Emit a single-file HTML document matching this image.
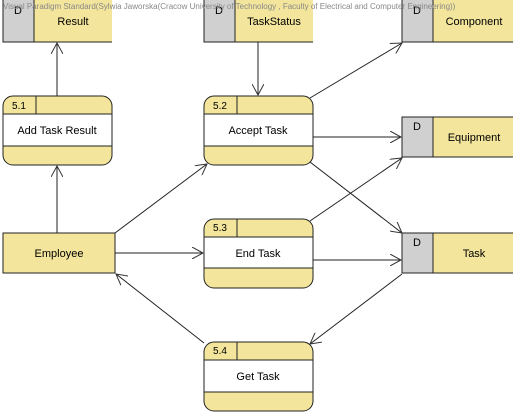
<!DOCTYPE html>
<html><head><style>
body{margin:0;background:#fff;width:516px;height:415px;overflow:hidden}
</style></head><body>
<svg width="516" height="415" xmlns="http://www.w3.org/2000/svg" font-family="Liberation Sans, sans-serif">
<defs>
<marker id="a" markerWidth="12" markerHeight="12" refX="11" refY="6" orient="auto" markerUnits="userSpaceOnUse">
<path d="M0,0 L11,6 L0,12" fill="none" stroke="#333" stroke-width="1"/></marker>
</defs>
<g font-size="11" text-anchor="middle">
<!-- stores -->
<g id="s">
</g>
<rect x="3" y="-2" width="31" height="44" fill="#d0d0d0"/><rect x="34" y="-2" width="78" height="44" fill="#f3e59c"/>
<path d="M112,-2H3V42H112M34,-2V42" fill="none" stroke="#222"/>
<text x="73" y="25">Result</text><text x="18" y="14">D</text>

<rect x="204" y="-2" width="31" height="44" fill="#d0d0d0"/><rect x="235" y="-2" width="78" height="44" fill="#f3e59c"/>
<path d="M313,-2H204V42H313M235,-2V42" fill="none" stroke="#222"/>
<text x="274" y="25">TaskStatus</text><text x="219" y="14">D</text>

<rect x="402" y="-2" width="31" height="44" fill="#d0d0d0"/><rect x="433" y="-2" width="80" height="44" fill="#f3e59c"/>
<path d="M513,-2H402V42H513M433,-2V42" fill="none" stroke="#222"/>
<text x="474" y="25">Component</text><text x="417" y="14">D</text>

<rect x="402" y="117" width="31" height="40" fill="#d0d0d0"/><rect x="433" y="117" width="80" height="40" fill="#f3e59c"/>
<path d="M513,117H402V157H513M433,117V157" fill="none" stroke="#222"/>
<text x="474" y="141">Equipment</text><text x="417" y="130">D</text>

<rect x="402" y="233" width="31" height="40" fill="#d0d0d0"/><rect x="433" y="233" width="80" height="40" fill="#f3e59c"/>
<path d="M513,233H402V273H513M433,233V273" fill="none" stroke="#222"/>
<text x="474" y="257">Task</text><text x="417" y="246">D</text>

<!-- employee -->
<rect x="3" y="233" width="112" height="40" fill="#f3e59c" stroke="#222"/>
<text x="59" y="257">Employee</text>

<!-- processes -->
<g id="p1">
<rect x="3" y="96" width="109" height="69" rx="10" fill="#f3e59c" stroke="#222"/>
<rect x="3.5" y="114" width="108" height="32" fill="#fff"/>
<path d="M3,114H112M3,146H112M36,96V114" stroke="#222" fill="none"/>
<text x="19" y="109" font-size="10">5.1</text>
<text x="57" y="134">Add Task Result</text>
</g>
<rect x="204" y="96" width="109" height="69" rx="10" fill="#f3e59c" stroke="#222"/>
<rect x="204.5" y="114" width="108" height="32" fill="#fff"/>
<path d="M204,114H313M204,146H313M237,96V114" stroke="#222" fill="none"/>
<text x="220" y="109" font-size="10">5.2</text><text x="258" y="134">Accept Task</text>

<rect x="204" y="219" width="109" height="69" rx="10" fill="#f3e59c" stroke="#222"/>
<rect x="204.5" y="237" width="108" height="31" fill="#fff"/>
<path d="M204,237H313M204,268H313M237,219V237" stroke="#222" fill="none"/>
<text x="220" y="231" font-size="10">5.3</text><text x="258" y="257">End Task</text>

<rect x="204" y="342" width="109" height="69" rx="10" fill="#f3e59c" stroke="#222"/>
<rect x="204.5" y="360" width="108" height="32" fill="#fff"/>
<path d="M204,360H313M204,392H313M237,342V360" stroke="#222" fill="none"/>
<text x="220" y="354" font-size="10">5.4</text><text x="258" y="380">Get Task</text>
</g>
<g stroke="#222" fill="none" marker-end="url(#a)">
<path d="M57,96V43"/>
<path d="M258,42V95"/>
<path d="M310,98L402,43"/>
<path d="M313,137H401"/>
<path d="M310,221L402,158"/>
<path d="M310,162L402,233"/>
<path d="M57,233V166"/>
<path d="M115,233L207,164"/>
<path d="M115,253H203"/>
<path d="M313,260H401"/>
<path d="M402,274L310,344"/>
<path d="M204,343L116,274"/>
</g>
<text x="3" y="9" font-size="8" fill="#888">Visual Paradigm Standard(Sylwia Jaworska(Cracow University of Technology , Faculty of Electrical and Computer Engineering))</text>
</svg>
</body></html>
